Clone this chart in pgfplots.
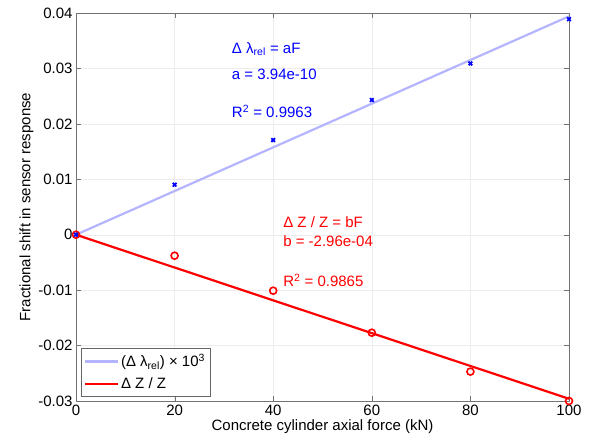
\documentclass[border=0pt]{standalone}
\usepackage{fontspec}
\setmainfont{Liberation Sans}
\usepackage{pgfplots}
\pgfplotsset{compat=1.18}
\definecolor{lightblue}{RGB}{180,180,255}
\definecolor{mred}{RGB}{255,0,0}
\definecolor{mblue}{RGB}{0,0,255}
\begin{document}
\begin{tikzpicture}[x=1pt,y=1pt]
\begin{axis}[
  at={(0,0)}, anchor=south west,
  scale only axis, width=493pt, height=388pt,
  xmin=0, xmax=100, ymin=-0.03, ymax=0.04,
  xtick={0,20,40,60,80,100},
  ytick={-0.03,-0.02,-0.01,0,0.01,0.02,0.03,0.04},
  yticklabel style={/pgf/number format/fixed,/pgf/number format/precision=2},
  /pgf/number format/assume math mode=true,
  scaled y ticks=false,
  tick align=inside,
  major tick length=5pt,
  axis line style={gray!90!black},
  tick style={gray!90!black},
  grid=major,
  grid style={gray!15},
  font=\fontsize{15}{17}\selectfont,
  tick label style={font=\fontsize{15}{17}\selectfont},
  xlabel={Concrete cylinder axial force (kN)},
  ylabel={Fractional shift in sensor response},
  xlabel style={yshift=2pt},
  ylabel style={yshift=-2pt},
  legend style={at={(axis cs:1.0,-0.0291)}, anchor=south west, draw=gray!80!black,
    font=\fontsize{15}{17}\selectfont, inner xsep=3pt, inner ysep=4pt, row sep=5pt,
    legend cell align=left},
  legend image code/.code={\draw[#1] (0cm,0cm) -- (1.15cm,0cm);},
  clip=false,
]
\addplot[lightblue, line width=2.2pt] coordinates {(0,0) (100,0.0394)};
\addlegendentry{(Δ λ\textsubscript{rel}) × 10\textsuperscript{3}}
\addplot[mred, line width=2.2pt] coordinates {(0,0) (100,-0.0296)};
\addlegendentry{Δ Z / Z}
\addplot[only marks, mark=o, mark size=3.5pt, mred, line width=1.6pt, forget plot] coordinates {
(0,0) (20,-0.00379) (40,-0.0101) (60,-0.01768) (80,-0.0247) (100,-0.0300)};
\addplot[only marks, mark=x, mark size=2.6pt, mblue, line width=1.8pt, forget plot] coordinates {
(0,0) (20,0.00902) (40,0.01708) (60,0.0243) (80,0.0309) (100,0.0389)};
\node[anchor=west, text=mblue, inner sep=0pt] at (axis cs:31.6,0.0335) {Δ λ\textsubscript{rel} = aF};
\node[anchor=west, text=mblue, inner sep=0pt] at (axis cs:31.6,0.0290) {a = 3.94e-10};
\node[anchor=west, text=mblue, inner sep=0pt] at (axis cs:31.6,0.0222) {R\textsuperscript{2} = 0.9963};
\node[anchor=west, text=mred, inner sep=0pt] at (axis cs:42.0,0.0022) {Δ Z / Z = bF};
\node[anchor=west, text=mred, inner sep=0pt] at (axis cs:42.0,-0.0012) {b = -2.96e-04};
\node[anchor=west, text=mred, inner sep=0pt] at (axis cs:42.0,-0.0082) {R\textsuperscript{2} = 0.9865};
\end{axis}
\pgfresetboundingbox
\useasboundingbox (-76,-42) rectangle (520,401);
\end{tikzpicture}
\end{document}
